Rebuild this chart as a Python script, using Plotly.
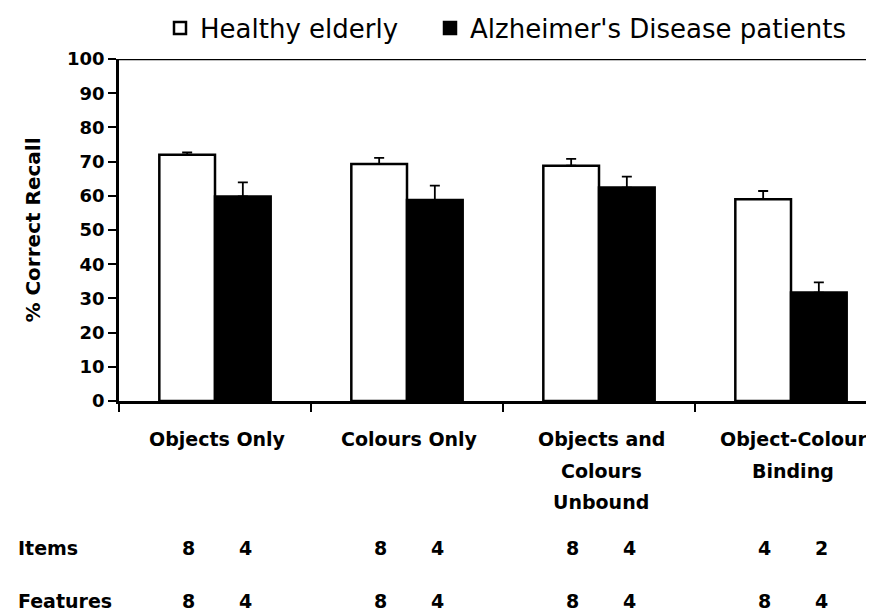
import plotly.graph_objects as go

# ---- data ----
categories = ["Objects Only", "Colours Only", "Objects and Colours Unbound", "Object-Colour Binding"]
category_lines = [["Objects Only"], ["Colours Only"], ["Objects and", "Colours", "Unbound"], ["Object-Colour", "Binding"]]
healthy = [72.0, 69.3, 68.8, 59.0]
healthy_err = [0.7, 1.8, 2.0, 2.4]
alzheimer = [59.8, 58.8, 62.4, 31.7]
alzheimer_err = [4.1, 4.2, 3.2, 3.0]
items_healthy = [8, 8, 8, 4]
items_ad = [4, 4, 4, 2]
features_healthy = [8, 8, 8, 8]
features_ad = [4, 4, 4, 4]
y_ticks = list(range(0, 101, 10))

FONT = "DejaVu Sans"
OFF = 8  # page body margin

# window geometry (reference pixels): plot left 119, right 874, top 59, bottom 401
W, H = 874 - OFF, 614 - OFF
L = 119 - OFF
T = 59 - OFF
B = H - (401 - OFF)
R = 0
ph = H - T - B
pw = W - L - R

def py(pix):
    return (401 - pix) / ph

def px(pix):
    return (pix - 119) / pw

fig = go.Figure()
fig.add_trace(go.Bar(
    name="Healthy elderly", x=categories, y=healthy, legendwidth=225,
    marker=dict(color="white", line=dict(color="black", width=2.5)),
    error_y=dict(type="data", array=healthy_err, arrayminus=[0]*4, symmetric=False,
                 color="black", thickness=1.8, width=5),
))
fig.add_trace(go.Bar(
    name="Alzheimer's Disease patients", x=categories, y=alzheimer,
    marker=dict(color="black", line=dict(color="black", width=2.5)),
    error_y=dict(type="data", array=alzheimer_err, arrayminus=[0]*4, symmetric=False,
                 color="black", thickness=1.8, width=5),
))

bold = dict(family=FONT, color="black", weight="bold")

annotations = []
for i, lines in enumerate(category_lines):
    for j, line in enumerate(lines):
        annotations.append(dict(x=categories[i], xref="x", y=py(439 + 31.5 * j), yref="paper",
                                text=line, showarrow=False, xanchor="center", yanchor="middle",
                                font=dict(bold, size=19), xshift=2))

for label, vals_h, vals_a, ypix in [("Items", items_healthy, items_ad, 548),
                                    ("Features", features_healthy, features_ad, 601)]:
    annotations.append(dict(x=px(16), xref="paper", y=py(ypix), yref="paper",
                            text=label, showarrow=False, xanchor="left", yanchor="middle",
                            font=dict(bold, size=19)))
    for i in range(4):
        annotations.append(dict(x=i - 0.14, xref="x", y=py(ypix), yref="paper",
                                text=str(vals_h[i]), showarrow=False, xanchor="center", yanchor="middle",
                                font=dict(bold, size=19)))
        annotations.append(dict(x=i + 0.16, xref="x", y=py(ypix), yref="paper",
                                text=str(vals_a[i]), showarrow=False, xanchor="center", yanchor="middle",
                                font=dict(bold, size=19)))

fig.update_layout(
    width=W, height=H,
    margin=dict(l=L, r=R, t=T, b=B, pad=0, autoexpand=False),
    paper_bgcolor="white", plot_bgcolor="white",
    barmode="group", bargap=0.42, bargroupgap=0,
    font=dict(family=FONT, color="black"),
    showlegend=True,
    legend=dict(orientation="h", x=px(160), xanchor="left", y=py(28), yanchor="middle",
                font=dict(family=FONT, size=26, color="black"), itemwidth=30,
                bgcolor="rgba(0,0,0,0)", traceorder="normal"),
    annotations=annotations,
    shapes=[dict(type="line", xref="paper", yref="y", x0=0, x1=1, y0=100, y1=100,
                 line=dict(color="black", width=2.5))],
)
fig.update_xaxes(
    type="category", range=[-0.5, -0.5 + pw / 192.0],
    showline=True, linecolor="black", linewidth=2.5,
    ticks="outside", tickson="boundaries", ticklen=8, tickwidth=1.5, tickcolor="black",
    showticklabels=False, showgrid=False, zeroline=False,
)
fig.update_yaxes(
    range=[0, 100], tickvals=y_ticks, ticktext=[str(v) for v in y_ticks],
    showline=True, linecolor="black", linewidth=2.5,
    ticks="outside", ticklen=8, tickwidth=1.5, tickcolor="black",
    tickfont=dict(bold, size=18),
    showgrid=False, zeroline=False,
    title=dict(text="% Correct Recall", font=dict(bold, size=20), standoff=22),
)

fig.write_html("out.html")
